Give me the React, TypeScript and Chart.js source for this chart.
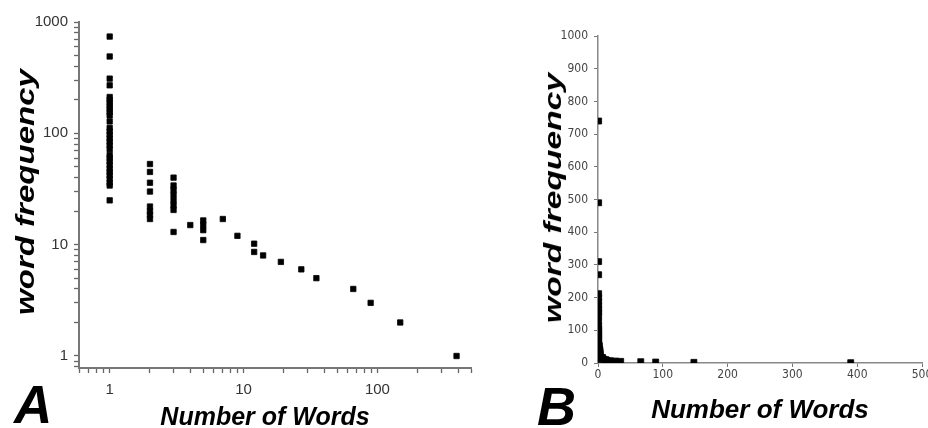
import React, { useEffect, useRef } from 'react';
import { Chart, registerables } from 'chart.js';

Chart.register(...registerables);

// ---- data ----
const freqOneWord = [740, 490, 310, 270, 212, 200, 188, 176, 165, 155, 145, 128, 112, 104, 97, 90, 84, 78, 72, 64, 60, 56, 52, 48, 45, 42, 39, 36, 34, 25];
const freqTwoWords = [53, 45, 36, 30, 22, 20, 18.5, 17];
const freqThreeWords = [40, 34, 31, 28, 25, 22.5, 20.5, 13];
const freqFiveWords = [16.5, 15, 13.5, 11];
const freqTwelveWords = [10.2, 8.6];
const singleWordCounts = [4, 7, 9, 14, 19, 27, 35, 66, 89, 148, 390];
const singleFrequencies = [15, 17, 12, 8, 7, 6, 5, 4, 3, 2, 1];

// ---- ticks ----
const logXTicks = [0.6, 0.7, 0.8, 0.9, 1, 2, 3, 4, 5, 6, 7, 8, 9, 10, 20, 30, 40, 50, 60, 70, 80, 90, 100, 200, 300, 400, 500];
const logXLabels = [1, 10, 100];
const logYTicks = [0.8, 0.9, 1, 2, 3, 4, 5, 6, 7, 8, 9, 10, 20, 30, 40, 50, 60, 70, 80, 90, 100, 200, 300, 400, 500, 600, 700, 800, 900, 1000];
const logYLabels = [1, 10, 100, 1000];
const linXLabels = [0, 100, 200, 300, 400, 500];
const linYLabels = [0, 100, 200, 300, 400, 500, 600, 700, 800, 900, 1000];

function buildPoints() {
  const pts: { x: number; y: number }[] = [];
  freqOneWord.forEach((y) => pts.push({ x: 1, y }));
  freqTwoWords.forEach((y) => pts.push({ x: 2, y }));
  freqThreeWords.forEach((y) => pts.push({ x: 3, y }));
  freqFiveWords.forEach((y) => pts.push({ x: 5, y }));
  freqTwelveWords.forEach((y) => pts.push({ x: 12, y }));
  singleWordCounts.forEach((x, i) => pts.push({ x, y: singleFrequencies[i] }));
  return pts;
}

const FONT = "'Liberation Sans', Arial, sans-serif";
const NARROW = "'Liberation Sans Narrow', 'DejaVu Sans Condensed', 'Liberation Sans', sans-serif";

export default function App() {
  const leftRef = useRef<HTMLCanvasElement>(null);
  const rightRef = useRef<HTMLCanvasElement>(null);

  useEffect(() => {
    const points = buildPoints();
    const left = new Chart(leftRef.current as HTMLCanvasElement, {
      type: 'scatter',
      data: {
        datasets: [
          {
            data: points,
            pointStyle: 'rect',
            pointRadius: 3.8,
            backgroundColor: '#000',
            borderColor: '#000',
            borderWidth: 0.8,
          },
        ],
      },
      options: {
        animation: false,
        responsive: false,
        maintainAspectRatio: false,
        events: [],
        layout: { padding: { left: 0, top: 22, right: 9, bottom: 0 } },
        plugins: { legend: { display: false }, tooltip: { enabled: false } },
        scales: {
          x: {
            type: 'logarithmic',
            position: 'bottom',
            min: 0.59,
            max: 500,
            afterBuildTicks: (s: any) => {
              s.ticks = logXTicks.map((v) => ({ value: v }));
            },
            afterFit: (s: any) => {
              s.height = 60;
              s.paddingLeft = 0;
              s.paddingRight = 0;
            },
            ticks: {
              autoSkip: false,
              maxRotation: 0,
              padding: 8,
              color: '#333',
              font: { family: FONT, size: 15 },
              callback: (v: any) => (logXLabels.includes(Number(v)) ? String(v) : ''),
            },
            grid: { drawOnChartArea: false, drawTicks: true, tickLength: 5, tickColor: '#666', tickWidth: 1.3 },
            border: { display: true, color: '#777', width: 2 },
          },
          y: {
            type: 'logarithmic',
            position: 'left',
            min: 0.78,
            max: 1000,
            afterBuildTicks: (s: any) => {
              s.ticks = logYTicks.map((v) => ({ value: v }));
            },
            afterFit: (s: any) => {
              s.width = 79;
              s.paddingTop = 0;
              s.paddingBottom = 0;
            },
            ticks: {
              autoSkip: false,
              padding: 6,
              color: '#333',
              font: { family: FONT, size: 15 },
              callback: (v: any) => (logYLabels.includes(Number(v)) ? String(v) : ''),
            },
            grid: { drawOnChartArea: false, drawTicks: true, tickLength: 5, tickColor: '#666', tickWidth: 1.3 },
            border: { display: true, color: '#777', width: 2 },
          },
        },
      },
    } as any);

    const right = new Chart(rightRef.current as HTMLCanvasElement, {
      type: 'scatter',
      data: {
        datasets: [
          {
            data: points,
            pointStyle: 'rect',
            pointRadius: 4.2,
            backgroundColor: '#000',
            borderColor: '#000',
            borderWidth: 0.8,
          },
        ],
      },
      options: {
        animation: false,
        responsive: false,
        maintainAspectRatio: false,
        events: [],
        layout: { padding: { left: 0, top: 36, right: 6, bottom: 0 } },
        plugins: { legend: { display: false }, tooltip: { enabled: false } },
        scales: {
          x: {
            type: 'linear',
            position: 'bottom',
            min: 0,
            max: 500,
            afterBuildTicks: (s: any) => {
              s.ticks = linXLabels.map((v) => ({ value: v }));
            },
            afterFit: (s: any) => {
              s.height = 65;
              s.paddingLeft = 0;
              s.paddingRight = 0;
            },
            ticks: {
              autoSkip: false,
              maxRotation: 0,
              padding: 1,
              color: '#444',
              font: { family: NARROW, size: 12 },
              callback: (v: any) => String(v),
            },
            grid: { drawOnChartArea: false, drawTicks: true, tickLength: 4, tickColor: '#777', tickWidth: 1 },
            border: { display: true, color: '#888', width: 1.5 },
          },
          y: {
            type: 'linear',
            position: 'left',
            min: 0,
            max: 1000,
            afterBuildTicks: (s: any) => {
              s.ticks = linYLabels.map((v) => ({ value: v }));
            },
            afterFit: (s: any) => {
              s.width = 118;
              s.paddingTop = 0;
              s.paddingBottom = 0;
            },
            ticks: {
              autoSkip: false,
              padding: 6,
              color: '#444',
              font: { family: NARROW, size: 12 },
              callback: (v: any) => String(v),
            },
            grid: { drawOnChartArea: false, drawTicks: true, tickLength: 4, tickColor: '#777', tickWidth: 1 },
            border: { display: true, color: '#888', width: 1.5 },
          },
        },
      },
    } as any);

    return () => {
      left.destroy();
      right.destroy();
    };
  }, []);

  const label = (fs: number): React.CSSProperties => ({
    position: 'absolute',
    fontFamily: FONT,
    fontWeight: 'bold',
    fontStyle: 'italic',
    fontSize: fs,
    lineHeight: 1,
    whiteSpace: 'nowrap',
    color: '#000',
  });

  return (
    <div style={{ position: 'fixed', left: 0, top: 0, width: 928, height: 428, background: '#fff', overflow: 'hidden' }}>
      <canvas ref={leftRef} width={480} height={428} style={{ position: 'absolute', left: 0, top: 0, width: 480, height: 428 }} />
      <canvas ref={rightRef} width={448} height={428} style={{ position: 'absolute', left: 480, top: 0, width: 448, height: 428 }} />
      <div style={{ ...label(26), left: 25, top: 192, transform: 'translate(-50%, -50%) rotate(-90deg) scaleX(1.27)' }}>word frequency</div>
      <div style={{ ...label(25), left: 265, top: 404, transform: 'translateX(-50%)' }}>Number of Words</div>
      <div style={{ ...label(53), left: 14, top: 378 }}>A</div>
      <div style={{ ...label(24), left: 553, top: 198, transform: 'translate(-50%, -50%) rotate(-90deg) scaleX(1.4)' }}>word frequency</div>
      <div style={{ ...label(26), left: 760, top: 396, transform: 'translateX(-50%)' }}>Number of Words</div>
      <div style={{ ...label(54), left: 537, top: 379 }}>B</div>
    </div>
  );
}
